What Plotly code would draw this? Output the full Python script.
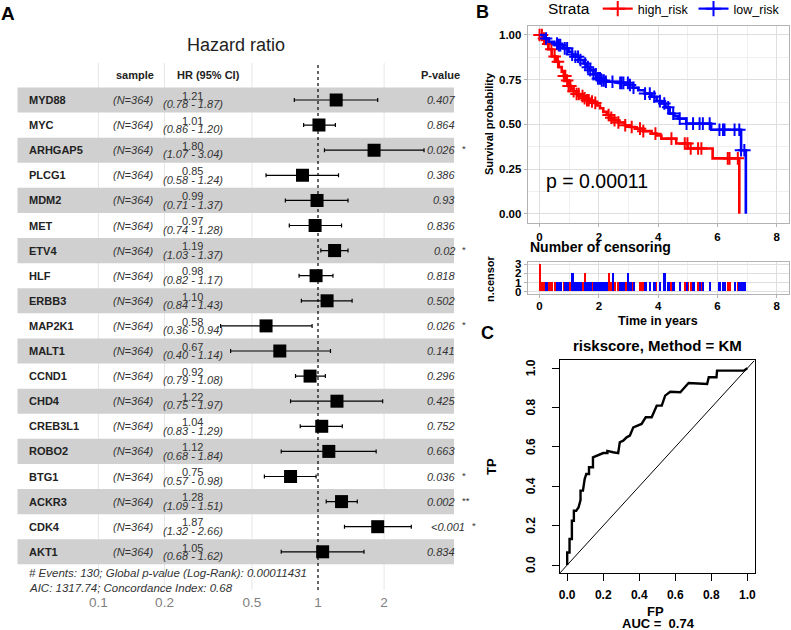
import numpy as np
import plotly.graph_objects as go

W, H = 791, 630
def px(x): return x / W
def py(y): return 1 - y / H

FONT = "Liberation Sans, Arial, Helvetica, sans-serif"

# ---------------- Panel A data (forest plot) ----------------
genes = ["MYD88", "MYC", "ARHGAP5", "PLCG1", "MDM2", "MET", "ETV4", "HLF", "ERBB3",
         "MAP2K1", "MALT1", "CCND1", "CHD4", "CREB3L1", "ROBO2", "BTG1", "ACKR3", "CDK4", "AKT1"]
hr = [1.21, 1.01, 1.80, 0.85, 0.99, 0.97, 1.19, 0.98, 1.10, 0.58, 0.67, 0.92, 1.22, 1.04, 1.12, 0.75, 1.28, 1.87, 1.05]
ci_lo = [0.78, 0.86, 1.07, 0.58, 0.71, 0.74, 1.03, 0.82, 0.84, 0.36, 0.40, 0.79, 0.75, 0.83, 0.68, 0.57, 1.09, 1.32, 0.68]
ci_hi = [1.87, 1.20, 3.04, 1.24, 1.37, 1.28, 1.37, 1.17, 1.43, 0.94, 1.14, 1.08, 1.97, 1.29, 1.84, 0.98, 1.51, 2.66, 1.62]
pvals = ["0.407", "0.864", "0.026", "0.386", "0.93", "0.836", "0.02", "0.818", "0.502", "0.026",
         "0.141", "0.296", "0.425", "0.752", "0.663", "0.036", "0.002", "<0.001", "0.834"]
stars = ["", "", "*", "", "", "", "*", "", "", "*", "", "", "", "", "", "*", "**", "*", ""]
sample_n = "(N=364)"
forest_ticks = [0.1, 0.2, 0.5, 1, 2]
footnote1 = "# Events: 130; Global p-value (Log-Rank): 0.00011431"
footnote2 = "AIC: 1317.74; Concordance Index: 0.68"

# ---------------- Panel B data (KM curves) ----------------
red_t = [0, 0.1, 0.2, 0.3, 0.42, 0.55, 0.65, 0.75, 0.82, 0.9, 0.98, 1.06, 1.15, 1.25, 1.37, 1.48, 1.6,
         1.72, 1.82, 1.95, 2.04, 2.15, 2.27, 2.38, 2.49, 2.65, 2.88, 3.05, 3.22, 3.5, 3.78, 3.95, 4.11,
         4.61, 5.0, 5.84, 6.74]
red_s = [1.0, 0.98, 0.95, 0.92, 0.88, 0.85, 0.82, 0.795, 0.77, 0.745, 0.715, 0.70, 0.685, 0.67, 0.658,
         0.646, 0.635, 0.628, 0.62, 0.605, 0.59, 0.57, 0.552, 0.537, 0.523, 0.51, 0.495, 0.485, 0.476,
         0.462, 0.448, 0.438, 0.42, 0.393, 0.365, 0.31, 0.0]
blue_t = [0, 0.15, 0.31, 0.5, 0.65, 0.8, 0.98, 1.1, 1.2, 1.35, 1.49, 1.6, 1.71, 1.82, 1.93, 2.05, 2.21,
          2.66, 3.0, 3.15, 3.33, 3.55, 3.78, 3.95, 4.11, 4.25, 4.39, 4.55, 4.67, 4.95, 5.79, 6.8, 6.96]
blue_s = [1.0, 0.98, 0.962, 0.952, 0.943, 0.925, 0.906, 0.89, 0.878, 0.86, 0.84, 0.82, 0.803, 0.78,
          0.757, 0.745, 0.738, 0.732, 0.72, 0.705, 0.691, 0.672, 0.654, 0.63, 0.617, 0.595, 0.56,
          0.545, 0.532, 0.504, 0.47, 0.355, 0.0]

# censoring times and counts
red_cens_t = [0.0, 0.08, 0.15, 0.29, 0.40, 0.51, 0.62, 0.82, 0.87, 0.93, 0.98, 1.04, 1.15, 1.25, 1.32,
              1.45, 1.52, 1.60, 1.66, 1.77, 1.88, 2.33, 2.42, 2.53, 2.66, 2.89, 3.11, 3.39, 3.50, 3.91,
              4.45, 4.90, 4.99, 5.10, 5.35, 5.46, 6.35, 6.41, 6.69]
red_cens_n = [3, 1, 1, 1, 1, 1, 1, 1, 1, 1, 1, 1, 1, 1, 1, 1, 2, 1, 1, 1, 1, 2, 1, 1, 1, 1, 1, 1, 1, 1,
              1, 1, 1, 1, 1, 1, 1, 1, 1]
blue_cens_t = [0.22, 0.59, 0.65, 0.70, 0.85, 0.93, 1.10, 1.21, 1.30, 1.38, 1.54, 1.63, 1.71, 1.82, 1.90,
               1.97, 2.04, 2.10, 2.17, 2.24, 2.46, 2.72, 2.77, 2.83, 2.98, 3.05, 3.17, 3.56, 3.72, 3.87,
               4.06, 4.21, 4.34, 4.51, 4.73, 4.96, 5.18, 5.40, 5.51, 5.74, 6.07, 6.19, 6.24, 6.58, 6.74,
               6.80, 6.91]
blue_cens_n = [1, 1, 1, 1, 1, 1, 2, 1, 1, 1, 1, 1, 1, 1, 1, 1, 1, 1, 1, 1, 2, 1, 1, 1, 2, 1, 1, 1, 1, 1,
               1, 2, 1, 1, 1, 1, 1, 1, 1, 1, 1, 1, 1, 1, 1, 1, 1]
km_pval_text = "p = 0.00011"

# ---------------- Panel C data (ROC) ----------------
roc_fp = [0, 0, 0.013, 0.013, 0.026, 0.026, 0.037, 0.037, 0.05, 0.063, 0.074, 0.074, 0.0875, 0.097,
          0.106, 0.121, 0.121, 0.143, 0.143, 0.171, 0.2, 0.223, 0.223, 0.255, 0.283, 0.292, 0.311, 0.33,
          0.348, 0.367, 0.385, 0.413, 0.436, 0.469, 0.497, 0.525, 0.544, 0.572, 0.628, 0.646, 0.674,
          0.777, 0.786, 0.829, 0.832, 0.981, 1.0]
roc_tp = [0, 0.064, 0.064, 0.132, 0.132, 0.225, 0.225, 0.276, 0.276, 0.293, 0.33, 0.378, 0.378, 0.437,
          0.463, 0.463, 0.497, 0.497, 0.547, 0.556, 0.569, 0.569, 0.58, 0.573, 0.569, 0.624, 0.632, 0.649,
          0.658, 0.70, 0.708, 0.717, 0.751, 0.751, 0.81, 0.81, 0.861, 0.881, 0.878, 0.898, 0.925, 0.92,
          0.954, 0.954, 0.988, 0.988, 1.0]
roc_ticks = [0.0, 0.2, 0.4, 0.6, 0.8, 1.0]
auc_text = "AUC =  0.74"

# =====================================================================
fig = go.Figure()
rows = list(range(len(genes)))

# ---- Panel A ----
fig.add_trace(go.Scatter(
    x=hr, y=rows, mode="markers", xaxis="x", yaxis="y", showlegend=False,
    marker=dict(symbol="square", size=13, color="black"),
    error_x=dict(type="data", symmetric=False,
                 array=[h - m for h, m in zip(ci_hi, hr)],
                 arrayminus=[m - l for m, l in zip(hr, ci_lo)],
                 color="black", thickness=1.2, width=2)))

shapes = []
# light vertical grid lines of the forest axis (drawn first so the grey bands cover them)
for v in forest_ticks:
    if v != 1:
        shapes.append(dict(type="line", xref="x", yref="y domain", x0=v, x1=v, y0=0, y1=1,
                           line=dict(color="#e6e6e6", width=1), layer="below"))
for i in rows:
    if i % 2 == 0:
        shapes.append(dict(type="rect", xref="x domain", yref="y", x0=0, x1=1,
                           y0=i - 0.5, y1=i + 0.5, fillcolor="#d0d0d0", line=dict(width=0),
                           layer="below"))
shapes.append(dict(type="line", xref="x", yref="y domain", x0=1, x1=1, y0=0, y1=1,
                   line=dict(color="black", width=1.2, dash="dot"), layer="above"))

ann = []
def A(text, x, y, size=11, xanchor="center", yanchor="middle", color="#222222",
      bold=False, italic=False, xref="paper", yref="paper", angle=0):
    ann.append(dict(text=text, x=x, y=y, xref=xref, yref=yref, showarrow=False,
                    xanchor=xanchor, yanchor=yanchor, textangle=angle,
                    font=dict(family=FONT, size=size, color=color,
                              weight="bold" if bold else "normal",
                              style="italic" if italic else "normal")))

A("A", px(8), py(13), size=19, bold=True, color="black")
A("Hazard ratio", px(236), py(45), size=18, color="#222222")
A("sample", px(135), -1, size=11, bold=True, yref="y")
A("HR (95% CI)", px(209), -1, size=11, bold=True, yref="y")
A("P-value", px(462), -1, size=11, bold=True, xanchor="right", yref="y")
for i, g in enumerate(genes):
    A(g, px(27), i, size=11, bold=True, xanchor="left", yref="y", color="#222222")
    A(sample_n, px(154.5), i, size=11, italic=True, xanchor="right", yref="y", color="#333333")
    A(f"{hr[i]:.2f}", px(192.5), i - 0.17, size=11, yref="y", color="#333333")
    A(f"({ci_lo[i]:.2f} - {ci_hi[i]:.2f})", px(192.5), i + 0.17, size=11, italic=True,
      yref="y", color="#333333")
    pv_right = 467 if pvals[i].startswith("<") else 457
    A(pvals[i], px(pv_right), i, size=11, italic=True, xanchor="right", yref="y", color="#333333")
    if stars[i]:
        A(stars[i], px(pv_right + 3), i - 0.05, size=9.5, xanchor="left", yref="y", color="#333333")
A(footnote1, px(27), py(573), size=11.5, italic=True, xanchor="left", color="#333333")
A(footnote2, px(27), py(588), size=11.5, italic=True, xanchor="left", color="#333333")

# ---- Panel B ----
def surv_at(ts, ss, t):
    idx = np.searchsorted(np.array(ts), np.array(t), side="right") - 1
    return [ss[j] for j in idx]

for ts, ss, ct, col in [(red_t, red_s, red_cens_t, "#FF0000"), (blue_t, blue_s, blue_cens_t, "#0000FF")]:
    fig.add_trace(go.Scatter(x=ts, y=ss, mode="lines", line=dict(color=col, width=2.6, shape="hv"),
                             xaxis="x2", yaxis="y2", showlegend=False, hoverinfo="skip"))
    fig.add_trace(go.Scatter(x=ct, y=surv_at(ts, ss, ct), mode="markers",
                             marker=dict(symbol="cross-thin", size=9, color=col, line=dict(width=2, color=col)),
                             xaxis="x2", yaxis="y2", showlegend=False, hoverinfo="skip"))
for name, col in [("high_risk", "#FF0000"), ("low_risk", "#0000FF")]:
    fig.add_trace(go.Scatter(x=[None], y=[None], mode="lines+markers", name=name,
                             line=dict(color=col, width=2.2),
                             marker=dict(symbol="cross-thin", size=11, color=col, line=dict(width=2, color=col)),
                             xaxis="x2", yaxis="y2"))

# censoring plot
for ct, cn, col in [(red_cens_t, red_cens_n, "#FF0000"), (blue_cens_t, blue_cens_n, "#0000FF")]:
    fig.add_trace(go.Bar(x=ct, y=cn, width=0.085, marker=dict(color=col, line=dict(width=0)),
                         xaxis="x3", yaxis="y3", showlegend=False, hoverinfo="skip"))

A("B", px(482.5), py(12), size=18, bold=True, color="black")
A(km_pval_text, px(544), py(181), size=19.5, xanchor="left", color="black")
A("Survival probability", px(489), py(124), size=11, bold=True, color="black", angle=-90)
A("Number of censoring", px(528), py(247), size=14, bold=True, xanchor="left", color="black")
A("n.censor", px(490), py(278), size=11, bold=True, color="black", angle=-90)
A("Time in years", px(658), py(321), size=12.5, bold=True, color="black")

# ---- Panel C ----
fig.add_trace(go.Scatter(x=[-0.04, 1.04], y=[-0.04, 1.04], mode="lines", line=dict(color="black", width=1),
                         xaxis="x4", yaxis="y4", showlegend=False, hoverinfo="skip"))
fig.add_trace(go.Scatter(x=roc_fp, y=roc_tp, mode="lines", line=dict(color="black", width=2.4),
                         xaxis="x4", yaxis="y4", showlegend=False, hoverinfo="skip"))
A("C", px(487.5), py(332.5), size=18, bold=True, color="black")
A("riskscore, Method = KM", px(657), py(345), size=15, bold=True, color="black")
A("TP", px(491), py(467), size=13, bold=True, color="black", angle=-90)
A("FP", px(655), py(611), size=13, bold=True, color="black")
A(auc_text, px(658), py(623), size=13, bold=True, color="black")
# R-style y tick labels (parallel to the axis), positioned on the y4 scale
for v in roc_ticks:
    A(f"{v:.1f}", px(531), v, size=12, bold=True, color="black", angle=-90, yref="y4")

# ---------------- layout ----------------
bold_tick = dict(family=FONT, size=11.5, color="black", weight="bold")
km_grid = dict(showgrid=True, gridcolor="#dedede", gridwidth=1, zeroline=False,
               showline=True, mirror=True, linecolor="#b3b3b3", linewidth=1,
               ticks="outside", ticklen=3, tickcolor="#b3b3b3", tickfont=bold_tick)

fig.update_layout(
    width=W, height=H, margin=dict(l=0, r=0, t=0, b=0, autoexpand=False),
    paper_bgcolor="white", plot_bgcolor="white",
    font=dict(family=FONT, color="black"),
    barmode="overlay", bargap=0,
    shapes=shapes, annotations=ann,
    legend=dict(orientation="h", x=px(546), y=1 + 6 / H, xanchor="left", yanchor="top",
                title=dict(text="Strata", font=dict(family=FONT, size=15.5, color="black")),
                font=dict(family=FONT, size=12.5, color="black"), bgcolor="rgba(0,0,0,0)",
                itemwidth=30, tracegroupgap=0),
    xaxis=dict(domain=[px(17.5), px(454)], type="log", range=[-1.3684, 0.6193],
               tickvals=forest_ticks, ticktext=[str(v) for v in forest_ticks],
               showgrid=False, zeroline=False, showline=False, ticklabelstandoff=2,
               ticks="", tickfont=dict(family=FONT, size=13.5, color="#7f7f7f")),
    yaxis=dict(domain=[py(590), py(63)], range=[19.522, -1.474], visible=False),
    xaxis2=dict(domain=[px(527.7), px(788.5)], range=[-0.4, 8.4], tickvals=[0, 2, 4, 6, 8],
                minor=dict(showgrid=True, gridcolor="#efefef", dtick=1, tick0=0, ticks=""),
                anchor="y2", ticklabelstandoff=0, **km_grid),
    yaxis2=dict(domain=[py(222.7), py(26)], range=[-0.05, 1.05], tickvals=[0, 0.25, 0.5, 0.75, 1.0],
                ticktext=["0.00", "0.25", "0.50", "0.75", "1.00"],
                minor=dict(showgrid=True, gridcolor="#efefef", dtick=0.125, tick0=0, ticks=""),
                anchor="x2", **km_grid),
    xaxis3=dict(domain=[px(527.7), px(788.5)], range=[-0.4, 8.4], tickvals=[0, 2, 4, 6, 8],
                minor=dict(showgrid=True, gridcolor="#efefef", dtick=1, tick0=0, ticks=""),
                anchor="y3", ticklabelstandoff=-1, **km_grid),
    yaxis3=dict(domain=[py(293.5), py(262.3)], range=[-0.2, 3.2], tickvals=[0, 1, 2, 3],
                anchor="x3", **km_grid),
    xaxis4=dict(domain=[px(560), px(754.5)], range=[-0.04, 1.04], tickvals=roc_ticks,
                ticktext=[f"{v:.1f}" for v in roc_ticks], anchor="y4",
                showgrid=False, zeroline=False, showline=True, mirror=True, linecolor="black",
                linewidth=1, ticks="outside", ticklen=7, tickcolor="black", tickwidth=1,
                ticklabelstandoff=4,
                tickfont=dict(family=FONT, size=12, color="black", weight="bold")),
    yaxis4=dict(domain=[py(572.9), py(360.4)], range=[-0.04, 1.04], tickvals=roc_ticks,
                anchor="x4", showticklabels=False,
                showgrid=False, zeroline=False, showline=True, mirror=True, linecolor="black",
                linewidth=1, ticks="outside", ticklen=7, tickcolor="black", tickwidth=1),
)

fig.write_html("out.html", post_script="document.body.style.margin='0';",
               config={"displayModeBar": False})
